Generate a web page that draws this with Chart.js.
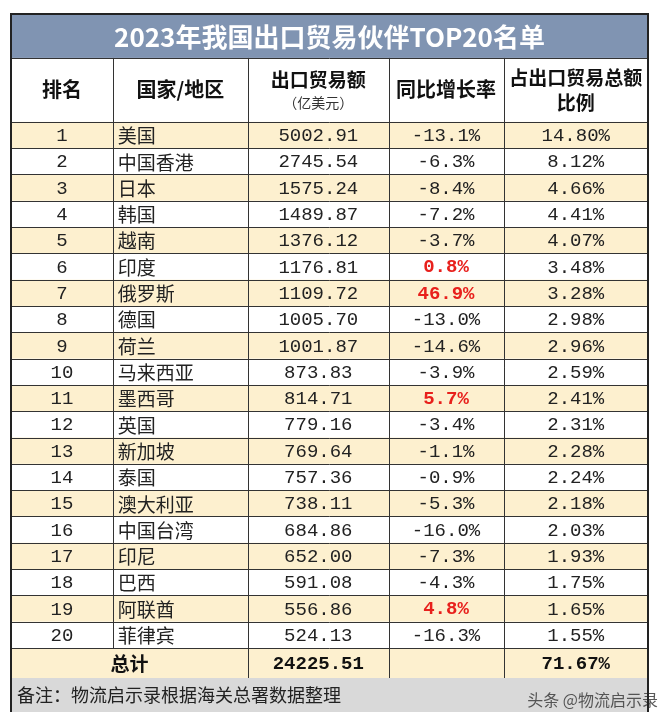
<!DOCTYPE html>
<html><head><meta charset="utf-8">
<script src="https://cdn.jsdelivr.net/npm/chart.js@4"></script>
<style>html,body{margin:0;padding:0;background:#fff}#w{width:660px;height:712px}</style>
</head><body><div id="w"><canvas id="c"></canvas></div>
<script>
const title = "2023年我国出口贸易伙伴TOP20名单";
const headers = ["排名", "国家/地区", "出口贸易额", "同比增长率", "占出口贸易总额"];
const headerSub = ["", "", "（亿美元）", "", "比例"];
const ranks = [1,2,3,4,5,6,7,8,9,10,11,12,13,14,15,16,17,18,19,20];
const countries = ["美国","中国香港","日本","韩国","越南","印度","俄罗斯","德国","荷兰","马来西亚","墨西哥","英国","新加坡","泰国","澳大利亚","中国台湾","印尼","巴西","阿联酋","菲律宾"];
const exportsVal = [5002.91,2745.54,1575.24,1489.87,1376.12,1176.81,1109.72,1005.70,1001.87,873.83,814.71,779.16,769.64,757.36,738.11,684.86,652.00,591.08,556.86,524.13];
const growth = [-13.1,-6.3,-8.4,-7.2,-3.7,0.8,46.9,-13.0,-14.6,-3.9,5.7,-3.4,-1.1,-0.9,-5.3,-16.0,-7.3,-4.3,4.8,-16.3];
const shares = [14.80,8.12,4.66,4.41,4.07,3.48,3.28,2.98,2.96,2.59,2.41,2.31,2.28,2.24,2.18,2.03,1.93,1.75,1.65,1.55];
const totalLabel = "总计", totalExport = 24225.51, totalShare = 71.67;
const note = "备注：物流启示录根据海关总署数据整理";
const watermark = "头条 @物流启示录";

const colEdges = [0, 1.0, 2.33, 3.71, 4.84, 6.26];
const TITLE_H = 1.67, HEAD_H = 2.43, TOTAL_H = 1.14;
const rowsTop = TITLE_H + HEAD_H;
const yMax = rowsTop + ranks.length + TOTAL_H;

const numFont = '"Liberation Mono","DejaVu Sans Mono",monospace';
const cjk = '"Noto Sans CJK SC","Noto Sans",sans-serif';

const tablePlugin = {
  id: 'table',
  afterDraw(chart) {
    const ctx = chart.ctx, xs = chart.scales.x, ys = chart.scales.y;
    const X = v => xs.getPixelForValue(v), Y = v => ys.getPixelForValue(v);
    const L = X(0), R = X(colEdges[colEdges.length-1]);
    ctx.save();
    // note row
    const nTop = Y(yMax), nBot = chart.height;
    ctx.fillStyle = '#d9d9d9'; ctx.fillRect(L, nTop, R-L, nBot-nTop);
    ctx.fillStyle = '#222'; ctx.font = '18px ' + cjk; ctx.textBaseline = 'middle'; ctx.textAlign = 'left';
    ctx.fillText(note, L+6, nTop+17);
    ctx.fillStyle = 'rgba(60,60,60,0.85)'; ctx.font = '16px ' + cjk; ctx.textAlign='right';
    ctx.fillText(watermark, chart.width-2, nTop+22);
    // title
    ctx.fillStyle = '#8094b2'; ctx.fillRect(L, Y(0), R-L, Y(TITLE_H)-Y(0));
    ctx.fillStyle = '#fff'; ctx.font = 'bold 26px ' + cjk; ctx.textAlign='center';
    ctx.fillText(title, (L+R)/2, (Y(0)+Y(TITLE_H))/2+1);
    // header
    ctx.fillStyle = '#111';
    for (let i=0;i<5;i++){
      const cx = (X(colEdges[i])+X(colEdges[i+1]))/2;
      const t = Y(TITLE_H), b = Y(rowsTop);
      if (i===2){
        ctx.font='bold 19px '+cjk; ctx.fillText(headers[i], cx, t+22);
        ctx.font='14px '+cjk; ctx.fillStyle='#333'; ctx.fillText(headerSub[i], cx, t+45); ctx.fillStyle='#111';
      } else if (i===4){
        ctx.font='bold 19px '+cjk; ctx.fillText(headers[i], cx, t+20); ctx.fillText(headerSub[i], cx, t+45);
      } else {
        ctx.font='bold 20px '+cjk; ctx.fillText(headers[i], cx, (t+b)/2);
      }
    }
    // rows
    ranks.forEach((r, i) => {
      const t = Y(rowsTop+i), b = Y(rowsTop+i+1), m = (t+b)/2+1;
      if (i%2===0){ ctx.fillStyle='#fdf0cf'; ctx.fillRect(L,t,R-L,b-t); }
      ctx.fillStyle='#222'; ctx.textAlign='center';
      ctx.font='19px '+numFont;
      ctx.fillText(String(r), (X(colEdges[0])+X(colEdges[1]))/2, m);
      ctx.textAlign='left'; ctx.font='19px '+cjk;
      ctx.fillText(countries[i], X(colEdges[1])+5, m);
      ctx.textAlign='center'; ctx.font='19px '+numFont;
      ctx.fillText(exportsVal[i].toFixed(2), (X(colEdges[2])+X(colEdges[3]))/2, m);
      const g = growth[i];
      if (g>0){ ctx.fillStyle='#e8201c'; ctx.font='bold 19px '+numFont; }
      ctx.fillText(g.toFixed(1)+'%', (X(colEdges[3])+X(colEdges[4]))/2, m);
      ctx.fillStyle='#222'; ctx.font='19px '+numFont;
      ctx.fillText(shares[i].toFixed(2)+'%', (X(colEdges[4])+X(colEdges[5]))/2, m);
    });
    // total
    const tt = Y(rowsTop+ranks.length), tb = Y(yMax), tm=(tt+tb)/2+1;
    ctx.fillStyle='#fdf0cf'; ctx.fillRect(L,tt,R-L,tb-tt);
    ctx.fillStyle='#111'; ctx.font='bold 19px '+cjk;
    ctx.fillText(totalLabel, (X(colEdges[0])+X(colEdges[2]))/2, tm);
    ctx.font='bold 19px '+numFont;
    ctx.fillText(totalExport.toFixed(2), (X(colEdges[2])+X(colEdges[3]))/2, tm);
    ctx.fillText(totalShare.toFixed(2)+'%', (X(colEdges[4])+X(colEdges[5]))/2, tm);
    // grid lines
    ctx.strokeStyle='#333'; ctx.lineWidth=1;
    ctx.beginPath();
    const hl = v => { const y=Math.round(Y(v))+0.5; ctx.moveTo(L,y); ctx.lineTo(R,y); };
    hl(TITLE_H); hl(rowsTop);
    for (let i=1;i<=ranks.length;i++) hl(rowsTop+i);
    colEdges.forEach((c, k) => {
      if (k===0||k===colEdges.length-1) return;
      const x=Math.round(X(c))+0.5;
      ctx.moveTo(x, Y(TITLE_H)); ctx.lineTo(x, k===1 ? Y(rowsTop+ranks.length) : Y(yMax));
    });
    ctx.stroke();
    ctx.lineWidth=2; ctx.strokeStyle='#222';
    ctx.strokeRect(L, Y(0), R-L, nBot-Y(0)+2);
    ctx.restore();
  }
};

new Chart(document.getElementById('c'), {
  type: 'scatter',
  data: { datasets: [{ data: [], pointRadius: 0 }] },
  options: {
    responsive: true, maintainAspectRatio: false, animation: false,
    layout: { padding: { left: 11, right: 12, top: 14, bottom: 34 } },
    plugins: { legend: { display: false }, tooltip: { enabled: false } },
    scales: {
      x: { type: 'linear', min: 0, max: colEdges[colEdges.length-1], display: false },
      y: { type: 'linear', min: 0, max: yMax, reverse: true, display: false }
    }
  },
  plugins: [tablePlugin]
});
</script></body></html>
